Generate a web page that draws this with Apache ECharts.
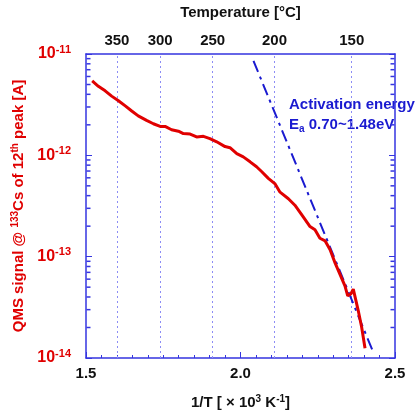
<!DOCTYPE html>
<html>
<head>
<meta charset="utf-8">
<script src="https://cdn.jsdelivr.net/npm/echarts@6/dist/echarts.min.js"></script>
<style>
  html, body { margin: 0; padding: 0; background: #fff; }
  #chart { width: 416px; height: 415px; }
</style>
</head>
<body>
<div id="chart"></div>
<script>
// 1/T [x10^3 K^-1] and QMS signal [A]
const invT = [1.520, 1.540, 1.562, 1.583, 1.605, 1.626, 1.648, 1.669, 1.696, 1.718,
  1.740, 1.756, 1.777, 1.799, 1.815, 1.837, 1.858, 1.880, 1.901, 1.923,
  1.950, 1.966, 1.988, 2.009, 2.031, 2.052, 2.069, 2.090, 2.112, 2.128,
  2.155, 2.176, 2.203, 2.225, 2.241, 2.257, 2.274, 2.290, 2.306, 2.322,
  2.338, 2.347, 2.357, 2.365, 2.381, 2.392, 2.403];
const signal = [5.42e-12, 4.80e-12, 4.33e-12, 3.84e-12, 3.46e-12, 3.09e-12, 2.74e-12, 2.45e-12, 2.21e-12, 2.05e-12,
  1.93e-12, 1.93e-12, 1.79e-12, 1.73e-12, 1.64e-12, 1.62e-12, 1.52e-12, 1.54e-12, 1.46e-12, 1.36e-12,
  1.22e-12, 1.19e-12, 1.04e-12, 9.65e-13, 8.63e-13, 7.71e-13, 6.89e-13, 5.93e-13, 5.22e-13, 4.33e-13,
  3.73e-13, 3.22e-13, 2.47e-13, 1.98e-13, 1.84e-13, 1.52e-13, 1.43e-13, 1.17e-13, 8.68e-14, 6.69e-14,
  5.15e-14, 4.11e-14, 4.28e-14, 4.78e-14, 2.94e-14, 2.02e-14, 1.25e-14];

// activation energy fit line (two end points)
const fitX = [2.042, 2.429];
const fitY = [8.55e-12, 1.15e-14];

// temperature ticks on the top axis [°C]
const tempTicks = [350, 300, 250, 200, 150];

// log minor tick mantissas and decades
const minorMant = [2, 3, 4, 5, 6, 7, 8, 9];
const decades = [-14, -13, -12];

const RED = "#e00000";
const BLUE = "#1a1ad0";
const FRAME = "#3535e0";
const FONT = "Liberation Sans, Arial, sans-serif";

const chart = echarts.init(document.getElementById("chart"));

const supLabel = (v) => {
  const e = Math.round(Math.log10(v));
  return "{b|10}{s|" + e + "}";
};

// log axis minor ticks at 2..9 of each decade
const minorVals = [];
decades.forEach((e) => minorMant.forEach((m) => minorVals.push(m * Math.pow(10, e))));
const tickSeries = (x, off) => ({
  type: "scatter",
  silent: true,
  clip: false,
  xAxisIndex: 0,
  yAxisIndex: 0,
  symbol: "rect",
  symbolSize: [4, 1.5],
  symbolOffset: [off, 0],
  itemStyle: { color: FRAME, opacity: 1 },
  data: minorVals.map((v) => [x, v]),
  z: 5,
});

chart.setOption({
  animation: false,
  grid: { left: 86, right: 21, top: 50, bottom: 57 },
  xAxis: [
    {
      type: "value",
      min: 1.5,
      max: 2.5,
      interval: 0.5,
      position: "bottom",
      name: "1/T [ \u00d7 10{s|3} K{s|-1}]",
      nameLocation: "middle",
      nameGap: 36,
      nameTextStyle: {
        color: "#111", fontSize: 15, fontWeight: "bold", fontFamily: FONT,
        rich: { s: { fontSize: 10, fontWeight: "bold", fontFamily: FONT, color: "#111", padding: [0, 0, 7, 0] } },
      },
      axisLine: { onZero: false, lineStyle: { color: FRAME, width: 1.5 } },
      axisTick: { inside: true, length: 6, lineStyle: { color: FRAME } },
      minorTick: { show: true, splitNumber: 10, length: 3, lineStyle: { color: FRAME } },
      splitLine: { show: false },
      axisLabel: {
        color: "#111", fontSize: 15, fontWeight: "bold", fontFamily: FONT, margin: 8,
        formatter: (v) => v.toFixed(1),
      },
    },
    {
      type: "value",
      min: 1.5,
      max: 2.5,
      position: "top",
      name: "Temperature [\u00b0C]",
      nameLocation: "middle",
      nameGap: 34,
      nameTextStyle: { color: "#111", fontSize: 15, fontWeight: "bold", fontFamily: FONT },
      axisLine: { onZero: false, lineStyle: { color: FRAME, width: 1.5 } },
      axisTick: { show: false },
      axisLabel: { show: false },
      splitLine: { show: false },
    },
  ],
  yAxis: [
    {
      type: "log",
      logBase: 10,
      min: 1e-14,
      max: 1e-11,
      position: "left",
      name: "QMS signal @ {s|133}Cs of 12{s|th} peak [A]",
      nameLocation: "middle",
      nameRotate: 90,
      nameGap: 54,
      nameTextStyle: {
        color: RED, fontSize: 15, fontWeight: "bold", fontFamily: FONT,
        rich: { s: { fontSize: 10, fontWeight: "bold", fontFamily: FONT, color: RED, padding: [0, 0, 7, 0] } },
      },
      axisLine: { show: true, lineStyle: { color: FRAME, width: 1.5 } },
      axisTick: { inside: true, length: 6, lineStyle: { color: FRAME } },
      splitLine: { show: false },
      axisLabel: {
        margin: 15,
        formatter: supLabel,
        rich: {
          b: { color: RED, fontSize: 16, fontWeight: "bold", fontFamily: FONT },
          s: { color: RED, fontSize: 11, fontWeight: "bold", fontFamily: FONT, padding: [0, 0, 9, 0] },
        },
      },
    },
    {
      type: "log",
      logBase: 10,
      min: 1e-14,
      max: 1e-11,
      position: "right",
      axisLine: { show: true, lineStyle: { color: FRAME, width: 1.5 } },
      axisTick: { inside: true, length: 6, lineStyle: { color: FRAME } },
      splitLine: { show: false },
      axisLabel: { show: false },
    },
  ],
  graphic: [
    {
      type: "text",
      left: 289,
      top: 95,
      style: {
        text: "Activation energy\n{n|E}{sub|a}{n| 0.70~1.48eV}",
        fill: BLUE,
        font: "bold 15px " + FONT,
        lineHeight: 20,
        rich: {
          n: { fill: BLUE, font: "bold 15px " + FONT },
          sub: { fill: BLUE, font: "bold 10px " + FONT, padding: [8, 0, 0, 0] },
        },
      },
    },
  ],
  series: [
    tickSeries(1.5, 2.5),
    tickSeries(2.5, -2.5),
    {
      type: "line",
      name: "fit",
      xAxisIndex: 0,
      yAxisIndex: 0,
      data: fitX.map((x, i) => [x, fitY[i]]),
      showSymbol: false,
      symbol: "none",
      lineStyle: { color: BLUE, width: 2, type: [12, 5, 3, 5] },
      z: 3,
    },
    {
      type: "line",
      name: "QMS",
      xAxisIndex: 0,
      yAxisIndex: 0,
      data: invT.map((x, i) => [x, signal[i]]),
      showSymbol: false,
      symbol: "none",
      lineStyle: { color: RED, width: 3 },
      z: 4,
      markLine: {
        silent: true,
        symbol: "none",
        lineStyle: { color: "#8c8cf5", width: 1, type: [2, 3] },
        label: {
          position: "end",
          distance: 6,
          color: "#111",
          fontSize: 15,
          fontWeight: "bold",
          fontFamily: FONT,
        },
        data: tempTicks.map((t) => ({
          xAxis: 1000 / (t + 273.15),
          label: { formatter: String(t) },
        })),
        z: 1,
      },
    },
  ],
});
</script>
</body>
</html>
